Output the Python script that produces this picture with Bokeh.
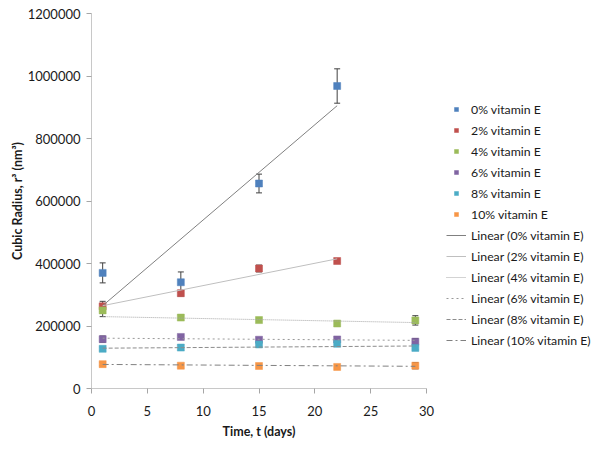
from bokeh.plotting import figure
from bokeh.models import (ColumnDataSource, Whisker, TeeHead, Legend, LegendItem,
                          FixedTicker, NumeralTickFormatter, Range1d)
from bokeh.embed import file_html
from bokeh.resources import INLINE

# ---------------- data ----------------
series_names = ["0% vitamin E", "2% vitamin E", "4% vitamin E",
                "6% vitamin E", "8% vitamin E", "10% vitamin E"]
days_short = [1, 8, 15, 22]
days_full = [1, 8, 15, 22, 29]

r0 = [370000, 340000, 656000, 968000]
r2 = [263000, 305000, 384000, 408000]
r4 = [250000, 227000, 219000, 208000, 218000]
r6 = [158000, 165000, 156000, 157000, 150000]
r8 = [127000, 131000, 141000, 143000, 130000]
r10 = [78000, 73000, 72000, 69000, 73000]

e0 = [32000, 33000, 30000, 55000]
e2 = [16000, 9000, 11000, 4000]
e4 = [20000, 8000, 8000, 5000, 15000]
e6 = [10000, 5000, 6000, 8000, 10000]
e8 = [6000, 8000, 5000, 5000, 6000]
e10 = [5000, 4000, 4000, 4000, 10000]

# linear trendlines: start/end day and value
trend_x0 = [1, 1, 1, 1, 1, 1]
trend_x1 = [22, 22, 29, 29, 29, 29]
trend_y0 = [265000, 265000, 230000, 161000, 129000, 77000]
trend_y1 = [905000, 415000, 211000, 154000, 136000, 71000]

x_ticks = [0, 5, 10, 15, 20, 25, 30]
y_ticks = [0, 200000, 400000, 600000, 800000, 1000000, 1200000]

# ---------------- styles ----------------
colors = ["#4F81BD", "#C0504D", "#9BBB59", "#8064A2", "#4BACC6", "#F79646"]
trend_colors = ["#808080", "#bfbfbf", "#a6a6a6", "#999999", "#8c8c8c", "#808080"]
trend_dash = ["solid", "solid", "1 1", "2 3", "4 2", "6 3 2 3"]
FONT = "Lato"

xs_list = [days_short, days_short, days_full, days_full, days_full, days_full]
ys_list = [r0, r2, r4, r6, r8, r10]
es_list = [e0, e2, e4, e6, e8, e10]

p = figure(frame_width=335, frame_height=375, output_backend="svg",
           toolbar_location=None,
           x_range=Range1d(0, 30), y_range=Range1d(0, 1200000),
           min_border_left=70, min_border_right=163, min_border_top=13,
           min_border_bottom=44)
p.styles = {"margin-left": "6px"}
p.outline_line_color = None
p.grid.visible = False

for ax in (p.xaxis[0], p.yaxis[0]):
    ax.axis_line_color = "#c8c8c8"
    ax.major_tick_line_color = "#a6a6a6"
    ax.major_tick_out = 5
    ax.major_tick_in = 0
    ax.minor_tick_line_color = None
    ax.major_label_text_font = FONT
    ax.major_label_text_font_size = "13px"
    ax.major_label_text_color = "#1a1a1a"
    ax.axis_label_text_font = FONT
    ax.axis_label_text_font_style = "bold"
    ax.axis_label_text_font_size = "12.5px"
    ax.axis_label_text_color = "#1a1a1a"

p.xaxis[0].ticker = FixedTicker(ticks=x_ticks)
p.yaxis[0].ticker = FixedTicker(ticks=y_ticks)
p.yaxis[0].formatter = NumeralTickFormatter(format="0")
p.xaxis[0].axis_label = "Time, t (days)"
p.yaxis[0].axis_label = "Cubic Radius, r\u00b3 (nm\u00b3)"
p.xaxis[0].major_label_standoff = 12
p.yaxis[0].major_label_standoff = 6
p.xaxis[0].axis_label_standoff = 5
p.yaxis[0].axis_label_standoff = 0

marker_renderers = []
line_renderers = []

# error bars
for xs, ys, es in zip(xs_list, ys_list, es_list):
    src = ColumnDataSource(dict(x=xs,
                                upper=[y + e for y, e in zip(ys, es)],
                                lower=[y - e for y, e in zip(ys, es)]))
    w = Whisker(base="x", upper="upper", lower="lower", source=src,
                dimension="height", line_color="#404040", line_width=1,
                upper_head=TeeHead(size=6, line_color="#404040", line_width=1),
                lower_head=TeeHead(size=6, line_color="#404040", line_width=1))
    p.add_layout(w)

# markers
for xs, ys, c in zip(xs_list, ys_list, colors):
    r = p.scatter(xs, ys, marker="square", size=7, fill_color=c,
                  line_color=c, line_alpha=0.5)
    marker_renderers.append(r)

# trend lines
for i in range(6):
    r = p.line([trend_x0[i], trend_x1[i]], [trend_y0[i], trend_y1[i]],
               line_color=trend_colors[i], line_width=1,
               line_dash=trend_dash[i])
    line_renderers.append(r)

items = [LegendItem(label=n, renderers=[r]) for n, r in zip(series_names, marker_renderers)]
items += [LegendItem(label="Linear (%s)" % n, renderers=[r])
          for n, r in zip(series_names, line_renderers)]

legend = Legend(items=items, location=(20, 38), padding=0,
                margin=0, border_line_color=None, background_fill_alpha=0,
                glyph_width=20, glyph_height=10, label_height=20,
                spacing=1, label_standoff=5,
                label_text_font=FONT, label_text_font_size="12.3px",
                label_text_color="#1a1a1a")
p.add_layout(legend, "right")

open("out.html", "w").write(file_html(p, INLINE))
